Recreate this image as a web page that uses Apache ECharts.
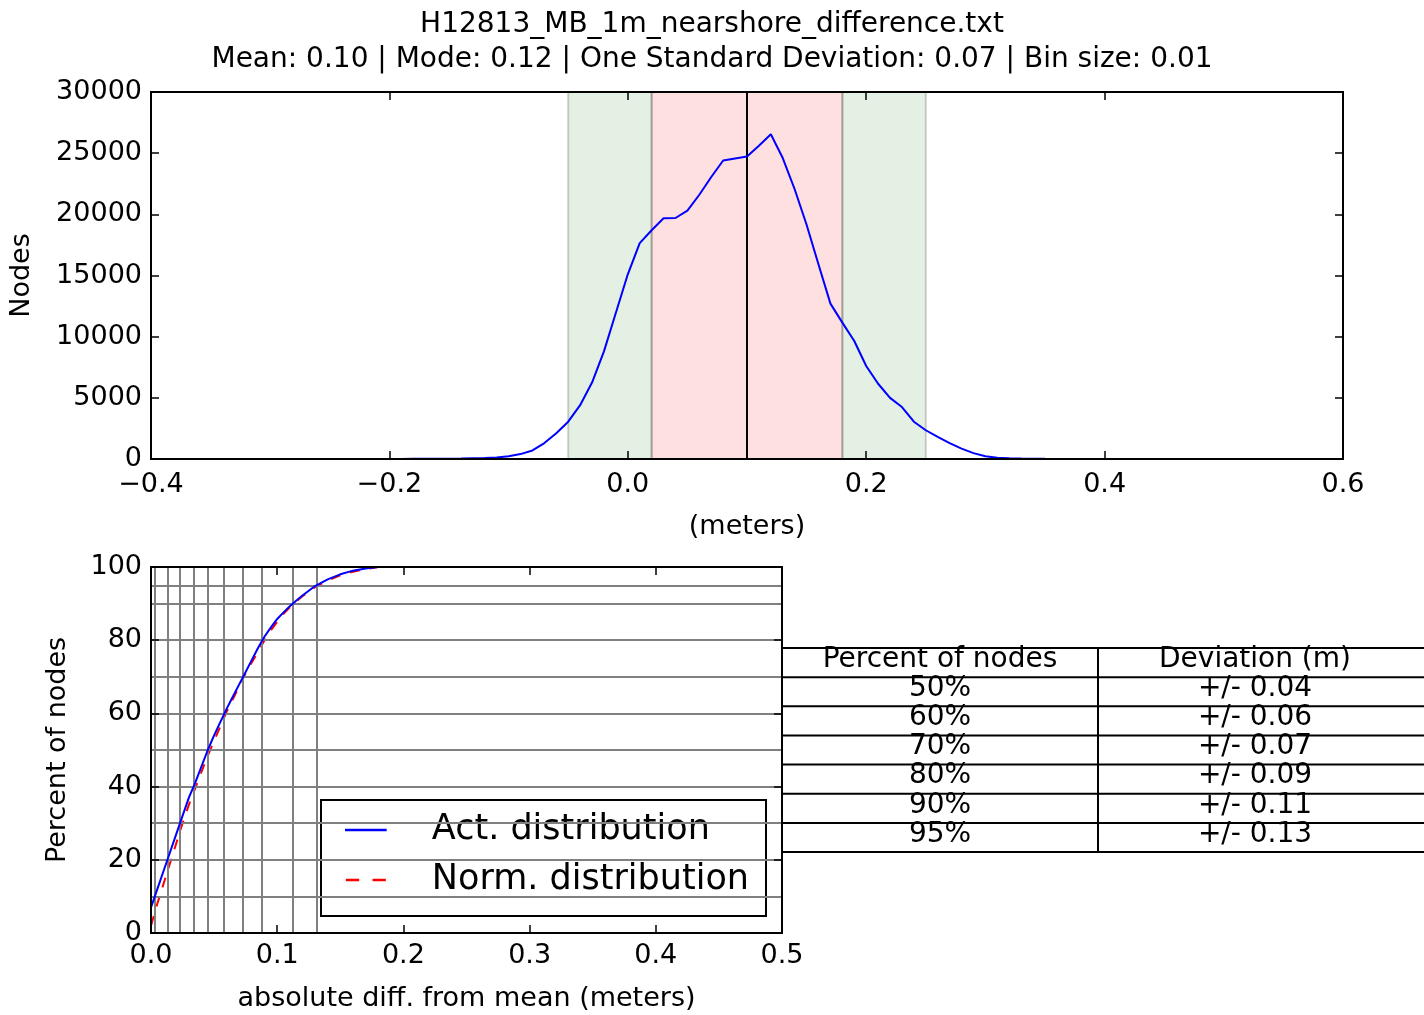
<!DOCTYPE html>
<html>
<head>
<meta charset="utf-8">
<script src="https://cdn.jsdelivr.net/npm/echarts@6/dist/echarts.min.js"></script>
<style>
html,body{margin:0;padding:0;background:#fff;}
#chart{width:1424px;height:1015px;}
</style>
</head>
<body>
<div id="chart"></div>
<script>
// ---------- DATA ----------
const titleLine1 = 'H12813_MB_1m_nearshore_difference.txt';
const titleLine2 = 'Mean: 0.10 | Mode: 0.12 | One Standard Deviation: 0.07 | Bin size: 0.01';

// histogram (bin centre in metres, node count)
const binCenters = [-0.25,-0.24,-0.23,-0.22,-0.21,-0.20,-0.19,-0.18,-0.17,-0.16,-0.15,-0.14,-0.13,-0.12,-0.11,-0.10,-0.09,-0.08,-0.07,-0.06,-0.05,-0.04,-0.03,-0.02,-0.01,0.00,0.01,0.02,0.03,0.04,0.05,0.06,0.07,0.08,0.09,0.10,0.11,0.12,0.13,0.14,0.15,0.16,0.17,0.18,0.19,0.20,0.21,0.22,0.23,0.24,0.25,0.26,0.27,0.28,0.29,0.30,0.31,0.32,0.33,0.34,0.35,0.36,0.37,0.38,0.39,0.40,0.45];
const nodeCounts = [0,0,0,5,5,10,10,15,20,25,30,40,60,80,130,220,400,700,1300,2100,3050,4400,6250,8800,11950,15100,17650,18700,19680,19700,20300,21600,23050,24400,24560,24720,25600,26550,24600,22050,19150,15900,12700,11150,9650,7600,6150,5000,4250,3050,2350,1800,1300,850,480,220,110,60,40,25,15,10,5,5,0,0,0];

const meanValue = 0.10;
const innerBand = [0.02, 0.18];   // pink band limits
const outerBand = [-0.05, 0.25];  // green band limits

// cumulative distributions (abs diff from mean in metres, percent of nodes)
const cdfX = [0.000,0.005,0.010,0.015,0.020,0.025,0.030,0.035,0.040,0.045,0.050,0.055,0.060,0.065,0.070,0.075,0.080,0.085,0.090,0.095,0.100,0.105,0.110,0.115,0.120,0.125,0.130,0.140,0.150,0.160,0.170,0.180];
const actPercent = [7,12,17,22,27,32,37,41,45.5,50,54,57.7,61.3,64.7,68,71.3,74.7,78,81,83.5,85.8,87.6,89.3,90.8,92.2,93.5,94.8,96.6,98,99,99.6,100];
const normPercent = [2,8,13.5,19,24.5,30,35,39.5,44,48.5,52.5,56.5,60.5,64,67.5,71,74,77,80,82.7,85,87.2,89,90.6,92,93.3,94.5,96.3,97.7,98.7,99.4,100];

// reference grid of the cumulative plot
const gridPercents = [10,20,30,40,50,60,70,80,90,95];
const gridDeviations = [0.003,0.013,0.023,0.034,0.045,0.058,0.073,0.088,0.112,0.131];

// table
const tableHeader = ['Percent of nodes', 'Deviation (m)'];
const tablePercents = ['50%','60%','70%','80%','90%','95%'];
const tableDeviations = ['+/- 0.04','+/- 0.06','+/- 0.07','+/- 0.09','+/- 0.11','+/- 0.13'];

// ---------- CHART ----------
const FONT = 'DejaVu Sans';
const TICK = 27;
const chart = echarts.init(document.getElementById('chart'), null, {renderer: 'canvas'});

const decFmt = d => v => (v < 0 ? '\u2212' : '') + Math.abs(v).toFixed(d);
const intFmt = v => String(Math.round(v));

function axisBase(extra) {
  return Object.assign({
    z: 10,
    axisLine: {show: true, onZero: false, lineStyle: {color: '#000', width: 2}},
    axisTick: {show: true, inside: true, length: 8, lineStyle: {color: '#000', width: 1.5}},
    splitLine: {show: false},
    axisLabel: {color: '#000', fontFamily: FONT, fontSize: TICK},
    nameTextStyle: {color: '#000', fontFamily: FONT, fontSize: TICK}
  }, extra);
}
function mirror(extra) {
  const a = axisBase(extra);
  a.axisLabel = {show: false};
  return a;
}

const G0 = {left: 151, top: 92, width: 1192, height: 367};
const G1 = {left: 151, top: 567, width: 631, height: 366};
const gridCommon = {show: true, borderColor: '#000', borderWidth: 2, backgroundColor: 'transparent', containLabel: false, outerBoundsMode: 'none'};

// table graphics built from the arrays
const tblLeft = 782, tblMid = 1098, tblRight = 1424, tblTop = 648, rowH = 29.15;
const tableRows = [tableHeader].concat(tablePercents.map((p, i) => [p, tableDeviations[i]]));
const graphics = [];
for (let r = 0; r <= tableRows.length; r++) {
  const y = tblTop + r * rowH;
  graphics.push({type: 'line', silent: true, shape: {x1: tblLeft, y1: y, x2: tblRight, y2: y}, style: {stroke: '#000', lineWidth: 2}});
}
[tblLeft, tblMid].forEach(x => graphics.push({type: 'line', silent: true, shape: {x1: x, y1: tblTop, x2: x, y2: tblTop + tableRows.length * rowH}, style: {stroke: '#000', lineWidth: 2}}));
tableRows.forEach((row, r) => {
  const cy = tblTop + r * rowH + rowH / 2 - 3;
  graphics.push({type: 'text', silent: true, x: (tblLeft + tblMid) / 2, y: cy, style: {text: row[0], fill: '#000', font: '28px "' + FONT + '"', textAlign: 'center', textVerticalAlign: 'middle'}});
  graphics.push({type: 'text', silent: true, x: (tblMid + 1412) / 2, y: cy, style: {text: row[1], fill: '#000', font: '28px "' + FONT + '"', textAlign: 'center', textVerticalAlign: 'middle'}});
});

const option = {
  animation: false,
  backgroundColor: '#fff',
  title: {
    text: titleLine1 + '\n' + titleLine2,
    left: 'center', top: 2,
    textStyle: {fontFamily: FONT, fontSize: 28, fontWeight: 'normal', color: '#000', lineHeight: 35}
  },
  grid: [
    Object.assign({}, gridCommon, G0),
    Object.assign({}, gridCommon, G1)
  ],
  legend: {
    data: [
      {name: 'Act. distribution', icon: 'path://M0,0h50v3h-50z'},
      {name: 'Norm. distribution', icon: 'path://M0,0h16v3h-16z M32,0h16v3h-16z'}
    ],
    orient: 'vertical',
    left: 321, top: 800,
    padding: [10, 17, 16, 24],
    itemGap: 10,
    itemWidth: 50, itemHeight: 2.5,
    borderColor: '#000', borderWidth: 2, borderRadius: 0,
    backgroundColor: '#fff',
    textStyle: {fontFamily: FONT, fontSize: 35, color: '#000', padding: [0, 0, 0, 36], lineHeight: 40},
    selectedMode: false
  },
  xAxis: [
    axisBase({gridIndex: 0, type: 'value', min: -0.4, max: 0.6, interval: 0.2, position: 'bottom',
      axisLabel: {color: '#000', fontFamily: FONT, fontSize: TICK, margin: 12, formatter: decFmt(1)},
      name: '(meters)', nameLocation: 'middle', nameGap: 54}),
    mirror({gridIndex: 0, type: 'value', min: -0.4, max: 0.6, interval: 0.2, position: 'top'}),
    axisBase({gridIndex: 1, type: 'value', min: 0, max: 0.5, interval: 0.1, position: 'bottom',
      axisLabel: {color: '#000', fontFamily: FONT, fontSize: TICK, margin: 9, formatter: decFmt(1)},
      name: 'absolute diff. from mean (meters)', nameLocation: 'middle', nameGap: 52}),
    mirror({gridIndex: 1, type: 'value', min: 0, max: 0.5, interval: 0.1, position: 'top'})
  ],
  yAxis: [
    axisBase({gridIndex: 0, type: 'value', min: 0, max: 30000, interval: 5000, position: 'left',
      axisLabel: {color: '#000', fontFamily: FONT, fontSize: TICK, margin: 9, formatter: intFmt},
      name: 'Nodes', nameLocation: 'middle', nameGap: 116}),
    mirror({gridIndex: 0, type: 'value', min: 0, max: 30000, interval: 5000, position: 'right'}),
    axisBase({gridIndex: 1, type: 'value', min: 0, max: 100, interval: 20, position: 'left',
      axisLabel: {color: '#000', fontFamily: FONT, fontSize: TICK, margin: 9, formatter: intFmt},
      name: 'Percent of nodes', nameLocation: 'middle', nameGap: 80}),
    mirror({gridIndex: 1, type: 'value', min: 0, max: 100, interval: 20, position: 'right'})
  ],
  graphic: graphics,
  series: [
    {
      name: 'bands', type: 'line', xAxisIndex: 0, yAxisIndex: 0, data: [], z: 1, silent: true,
      markArea: {
        silent: true,
        data: [
          [{xAxis: outerBand[0], itemStyle: {color: 'rgba(0,120,0,0.11)', borderColor: 'rgba(0,0,0,0.18)', borderWidth: 2}}, {xAxis: innerBand[0]}],
          [{xAxis: innerBand[1], itemStyle: {color: 'rgba(0,120,0,0.11)', borderColor: 'rgba(0,0,0,0.18)', borderWidth: 2}}, {xAxis: outerBand[1]}],
          [{xAxis: innerBand[0], itemStyle: {color: 'rgba(255,0,0,0.12)', borderColor: 'rgba(0,0,0,0.18)', borderWidth: 2}}, {xAxis: innerBand[1]}]
        ]
      },
      markLine: {
        silent: true, symbol: 'none', label: {show: false}, precision: 4,
        lineStyle: {color: '#000', width: 2, type: 'solid'},
        data: [{xAxis: meanValue}]
      }
    },
    {
      name: 'Nodes', type: 'line', xAxisIndex: 0, yAxisIndex: 0, z: 5,
      data: binCenters.map((x, i) => [x, nodeCounts[i]]),
      symbol: 'none', smooth: false,
      lineStyle: {color: '#0000ff', width: 2}
    },
    {
      name: 'refgrid', type: 'line', xAxisIndex: 2, yAxisIndex: 2, data: [], z: 1, silent: true,
      markLine: {
        silent: true, symbol: 'none', label: {show: false}, precision: 4,
        lineStyle: {color: '#808080', width: 2, type: 'solid'},
        data: gridDeviations.map(v => ({xAxis: v})).concat(gridPercents.map(p => ({yAxis: p})))
      }
    },
    {
      name: 'Act. distribution', type: 'line', xAxisIndex: 2, yAxisIndex: 2, z: 5,
      data: cdfX.map((x, i) => [x, actPercent[i]]),
      symbol: 'none', itemStyle: {color: '#0000ff'},
      lineStyle: {color: '#0000ff', width: 2}
    },
    {
      name: 'Norm. distribution', type: 'line', xAxisIndex: 2, yAxisIndex: 2, z: 4,
      data: cdfX.map((x, i) => [x, normPercent[i]]),
      symbol: 'none', itemStyle: {color: '#ff0000'},
      lineStyle: {color: '#ff0000', width: 2, type: [10, 10]}
    }
  ]
};
chart.setOption(option);
</script>
</body>
</html>
